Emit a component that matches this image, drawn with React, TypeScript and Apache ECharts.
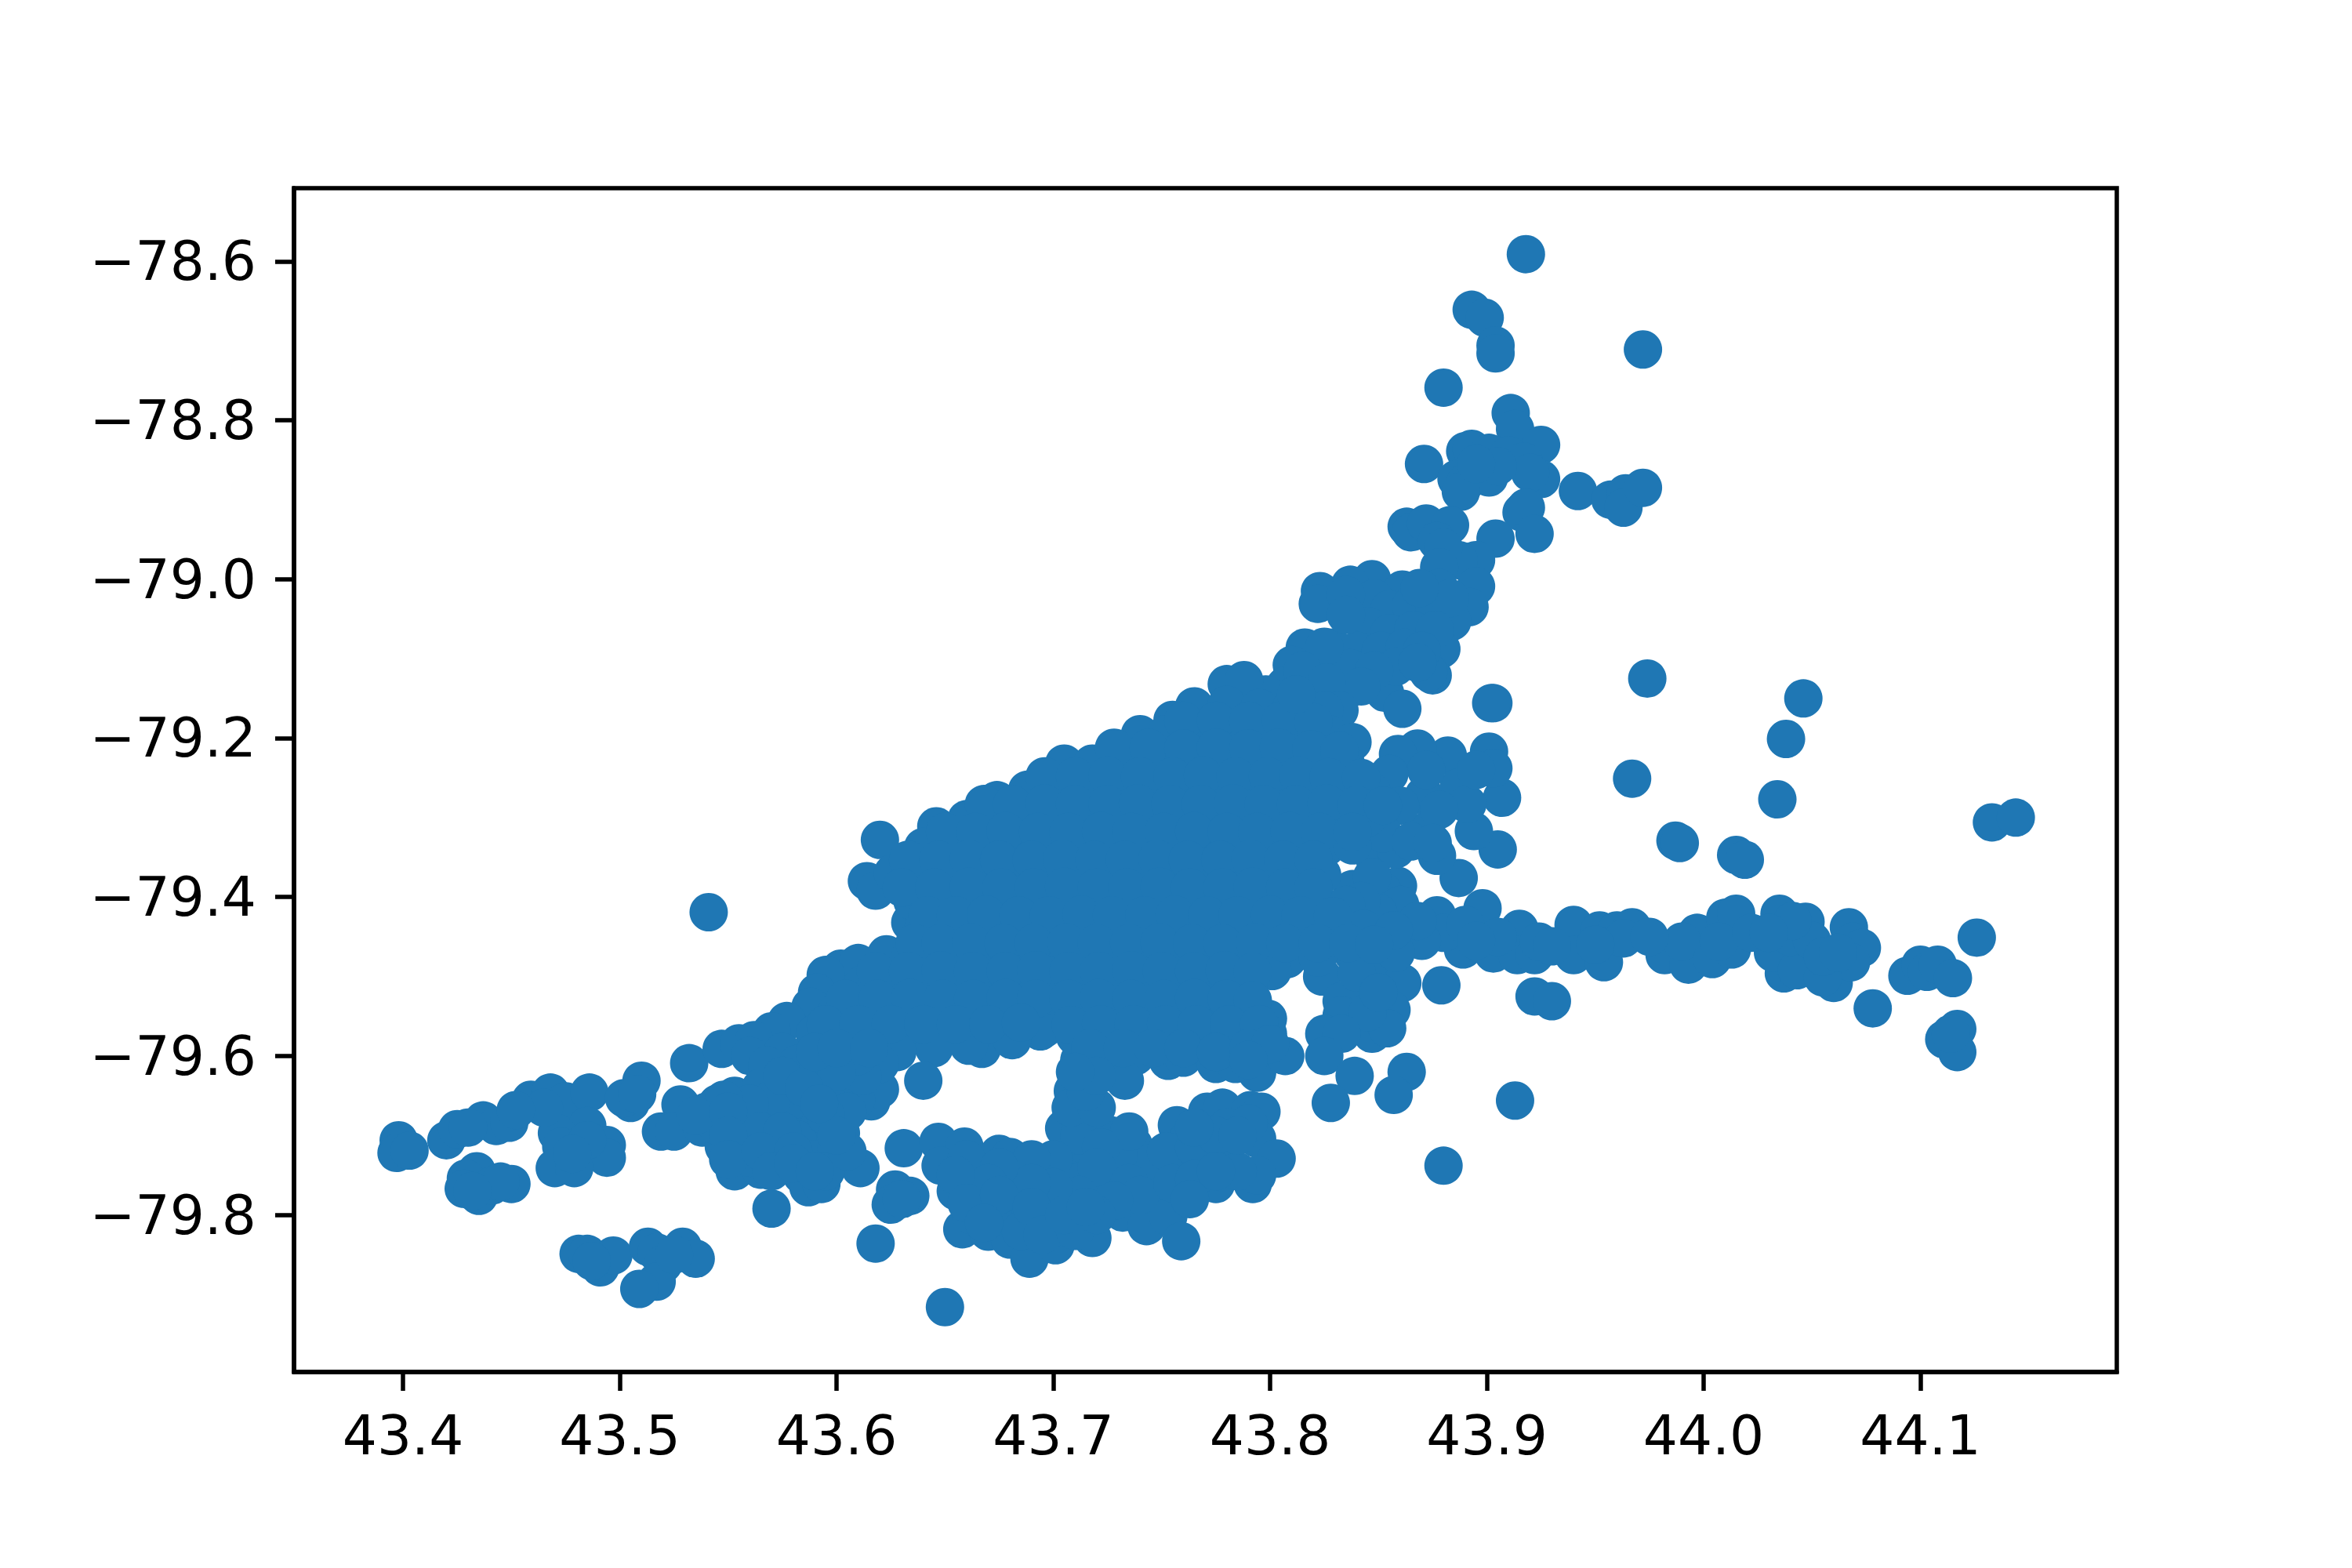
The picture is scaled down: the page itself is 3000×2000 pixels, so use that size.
import React, { useEffect, useRef } from "react";
import * as echarts from "echarts";

const xTicks = [43.4, 43.5, 43.6, 43.7, 43.8, 43.9, 44.0, 44.1];
const yTicks = [-78.6, -78.8, -79.0, -79.2, -79.4, -79.6, -79.8];

const northPoints = [
  [43.918,-78.591],[43.893,-78.661],[43.899,-78.671],[43.904,-78.706],[43.904,-78.716],[43.972,-78.711],[43.880,-78.759],
  [43.911,-78.791],[43.913,-78.811],[43.925,-78.831],[43.890,-78.839],[43.893,-78.836],[43.901,-78.841],[43.871,-78.855],
  [43.910,-78.844],[43.917,-78.852],[43.925,-78.874],[43.920,-78.866],[43.886,-78.874],[43.890,-78.879],[43.901,-78.872],
  [43.888,-78.890],[43.905,-78.858],[43.895,-78.855],[43.942,-78.889],[43.957,-78.900],[43.964,-78.892],[43.963,-78.910],[43.972,-78.885],
  [43.916,-78.916],[43.918,-78.910],[43.922,-78.943],[43.904,-78.949],[43.863,-78.934],[43.865,-78.941],[43.872,-78.930],
  [43.883,-78.932],[43.877,-78.952],[43.890,-78.978],[43.895,-78.976],[43.887,-78.976],[43.880,-78.960],[43.878,-78.985],
  [43.847,-79.000],[43.837,-79.007],[43.823,-79.015],[43.822,-79.031],[43.861,-79.013],[43.878,-79.011],[43.895,-79.009],
  [43.892,-79.035],[43.884,-79.053],[43.879,-79.088],[43.875,-79.121],[43.873,-79.117],[43.853,-79.143],[43.861,-79.163],
  [43.903,-79.156],[43.974,-79.125],[43.834,-79.143],[43.816,-79.086],[43.810,-79.108],[43.829,-79.086],[43.848,-79.024],
  [43.855,-79.038],[43.865,-79.033],[43.876,-79.038],[43.883,-79.024],[43.869,-79.011],[43.845,-79.059],[43.855,-79.068],
  [43.866,-79.064],[43.876,-79.064],[43.840,-79.090],[43.851,-79.090],[43.862,-79.086],[43.870,-79.090],[43.827,-79.108],
  [43.837,-79.112],[43.820,-79.134],[43.807,-79.134],[43.835,-79.020],[43.858,-79.110],[43.848,-79.115],[43.825,-79.085],
  [43.835,-79.045],[43.868,-79.105],[43.842,-79.135],[43.815,-79.115],[43.826,-79.130],[43.798,-79.145],[43.832,-79.165],
];

const eastPoints = [
  [44.046,-79.150],[44.038,-79.201],[43.967,-79.251],[44.034,-79.277],[44.133,-79.306],[44.144,-79.300],[43.987,-79.329],[43.989,-79.332],
  [44.015,-79.347],[44.019,-79.353],[43.898,-79.414],[43.915,-79.440],[43.877,-79.423],[43.940,-79.435],[43.952,-79.442],
  [43.960,-79.442],[43.967,-79.438],[43.940,-79.473],[43.954,-79.482],[43.963,-79.452],[43.903,-79.471],[43.914,-79.473],
  [43.922,-79.473],[43.924,-79.456],[43.889,-79.466],[43.879,-79.511],[43.922,-79.525],[43.930,-79.531],[44.078,-79.540],
  [43.982,-79.473],[43.993,-79.485],[43.997,-79.445],[43.990,-79.456],[44.004,-79.478],[44.010,-79.426],[44.015,-79.421],
  [44.013,-79.466],[44.007,-79.456],[44.035,-79.421],[44.037,-79.496],[44.047,-79.431],[44.032,-79.470],[44.043,-79.492],
  [44.040,-79.450],[44.050,-79.455],[44.060,-79.508],[44.067,-79.438],[44.069,-79.456],[44.073,-79.464],[44.068,-79.482],
  [44.055,-79.501],[44.055,-79.475],[44.062,-79.470],[44.041,-79.430],[44.094,-79.499],[44.100,-79.485],[44.103,-79.494],
  [44.108,-79.485],[44.115,-79.502],[44.126,-79.451],[44.117,-79.566],[44.111,-79.579],[44.117,-79.595],[44.114,-79.572],
  [43.880,-79.445],[43.890,-79.435],[43.905,-79.450],[43.930,-79.462],[43.950,-79.460],[43.870,-79.455],[43.895,-79.455],[44.022,-79.445],[44.030,-79.445],[43.975,-79.450],
];

const midEastPoints = [
  [43.902,-79.156],[43.905,-79.340],[43.887,-79.376],[43.894,-79.317],[43.877,-79.348],[43.907,-79.275],[43.901,-79.217],
  [43.903,-79.238],[43.882,-79.222],[43.868,-79.213],[43.859,-79.220],[43.836,-79.210],[43.852,-79.338],[43.859,-79.386],
  [43.838,-79.390],[43.852,-79.393],[43.872,-79.317],[43.871,-79.272],[43.850,-79.262],[43.887,-79.262],[43.891,-79.283],
  [43.872,-79.240],[43.855,-79.245],[43.895,-79.240],[43.860,-79.285],[43.878,-79.290],[43.848,-79.350],[43.860,-79.410],
  [43.845,-79.415],[43.858,-79.340],[43.843,-79.300],[43.850,-79.420],[43.855,-79.450],[43.835,-79.450],[43.845,-79.480],
  [43.852,-79.320],[43.865,-79.330],[43.875,-79.332],[43.847,-79.375],[43.842,-79.405],[43.868,-79.430],
];

const southEastPoints = [
  [43.824,-79.500],[43.854,-79.493],[43.861,-79.508],[43.843,-79.519],[43.833,-79.531],[43.856,-79.542],[43.847,-79.572],
  [43.833,-79.549],[43.854,-79.565],[43.825,-79.572],[43.845,-79.545],[43.833,-79.572],[43.825,-79.600],[43.839,-79.625],
  [43.863,-79.620],[43.857,-79.649],[43.828,-79.659],[43.913,-79.656],[43.880,-79.738],[43.838,-79.470],[43.858,-79.470],
  [43.840,-79.495],[43.850,-79.520],
];

const mainBodyPoints = [
  [43.646,-79.311],[43.620,-79.328],[43.674,-79.278],[43.705,-79.232],[43.723,-79.230],[43.755,-79.177],[43.780,-79.132],[43.788,-79.127],
  [43.614,-79.380],[43.618,-79.392],[43.634,-79.432],[43.668,-79.285],
  [43.765,-79.160],[43.780,-79.158],[43.795,-79.162],[43.810,-79.160],[43.825,-79.165],[43.740,-79.195],
  [43.752,-79.195],[43.768,-79.195],[43.782,-79.198],[43.797,-79.195],[43.812,-79.196],[43.827,-79.195],[43.838,-79.205],
  [43.718,-79.232],[43.733,-79.228],[43.748,-79.230],[43.762,-79.232],[43.777,-79.230],[43.792,-79.231],[43.806,-79.229],[43.820,-79.232],[43.835,-79.233],
  [43.688,-79.265],[43.702,-79.266],[43.716,-79.265],[43.731,-79.266],[43.745,-79.264],[43.760,-79.266],[43.774,-79.265],[43.789,-79.266],[43.803,-79.264],[43.818,-79.266],[43.832,-79.265],[43.847,-79.268],
  [43.660,-79.302],[43.674,-79.300],[43.689,-79.301],[43.703,-79.300],[43.718,-79.302],[43.732,-79.300],[43.747,-79.301],[43.761,-79.300],[43.776,-79.302],[43.790,-79.300],[43.805,-79.301],[43.819,-79.300],[43.834,-79.302],[43.845,-79.300],
  [43.640,-79.337],[43.653,-79.336],[43.667,-79.335],[43.682,-79.336],[43.696,-79.335],[43.711,-79.337],[43.725,-79.335],[43.740,-79.336],[43.754,-79.335],[43.769,-79.337],[43.783,-79.335],[43.798,-79.336],[43.812,-79.335],[43.826,-79.337],[43.838,-79.335],
  [43.626,-79.370],[43.640,-79.371],[43.655,-79.370],[43.669,-79.372],[43.684,-79.370],[43.698,-79.371],[43.713,-79.370],[43.727,-79.372],[43.742,-79.370],[43.756,-79.371],[43.771,-79.370],[43.785,-79.372],[43.800,-79.370],[43.814,-79.371],[43.824,-79.372],
  [43.635,-79.405],[43.648,-79.406],[43.662,-79.405],[43.677,-79.407],[43.691,-79.405],[43.706,-79.406],[43.720,-79.405],[43.735,-79.407],[43.749,-79.405],[43.764,-79.406],[43.778,-79.405],[43.793,-79.407],[43.807,-79.405],[43.822,-79.406],[43.835,-79.410],
  [43.640,-79.440],[43.655,-79.441],[43.669,-79.440],[43.684,-79.442],[43.698,-79.440],[43.713,-79.441],[43.727,-79.440],[43.742,-79.442],[43.756,-79.440],[43.771,-79.441],[43.785,-79.440],[43.800,-79.442],[43.814,-79.440],[43.829,-79.441],[43.843,-79.440],[43.857,-79.442],
  [43.623,-79.472],[43.634,-79.475],[43.648,-79.476],[43.662,-79.475],[43.677,-79.477],[43.691,-79.475],[43.706,-79.476],[43.720,-79.475],[43.735,-79.477],[43.749,-79.475],[43.764,-79.476],[43.778,-79.475],[43.793,-79.477],[43.808,-79.478],[43.822,-79.476],
  [43.602,-79.490],[43.610,-79.483],[43.612,-79.510],[43.627,-79.511],[43.641,-79.510],[43.656,-79.512],[43.670,-79.510],[43.685,-79.511],[43.699,-79.510],[43.714,-79.512],[43.728,-79.510],[43.743,-79.511],[43.757,-79.510],[43.772,-79.512],[43.786,-79.510],[43.801,-79.493],[43.790,-79.515],
  [43.595,-79.498],[43.591,-79.520],[43.588,-79.538],[43.600,-79.545],[43.615,-79.546],[43.629,-79.545],[43.644,-79.547],[43.658,-79.545],[43.673,-79.546],[43.687,-79.545],[43.702,-79.547],[43.716,-79.545],[43.731,-79.546],[43.745,-79.545],[43.760,-79.547],[43.774,-79.545],[43.789,-79.546],[43.799,-79.553],
  [43.577,-79.556],[43.570,-79.569],[43.590,-79.572],[43.605,-79.575],[43.620,-79.573],[43.634,-79.575],[43.641,-79.576],[43.652,-79.570],[43.667,-79.572],[43.681,-79.574],[43.696,-79.565],[43.694,-79.569],[43.710,-79.575],[43.724,-79.577],[43.739,-79.575],[43.753,-79.576],[43.768,-79.575],[43.782,-79.577],[43.799,-79.572],
  [43.660,-79.582],[43.667,-79.591],[43.681,-79.580],[43.661,-79.587],[43.645,-79.590],[43.628,-79.595],[43.712,-79.605],[43.725,-79.605],[43.738,-79.600],[43.753,-79.606],[43.760,-79.602],[43.775,-79.610],[43.784,-79.610],[43.794,-79.621],[43.807,-79.600],[43.733,-79.631],[43.709,-79.644],[43.640,-79.631],
];

const mainInteriorPoints = [
  [43.760,-79.178],[43.775,-79.178],[43.790,-79.178],[43.805,-79.178],[43.820,-79.180],[43.812,-79.145],
  [43.728,-79.212],[43.744,-79.212],[43.760,-79.213],[43.775,-79.212],[43.790,-79.213],[43.804,-79.212],[43.819,-79.214],[43.832,-79.216],
  [43.696,-79.248],[43.710,-79.248],[43.725,-79.247],[43.740,-79.248],[43.755,-79.248],[43.769,-79.247],[43.784,-79.248],[43.799,-79.248],[43.813,-79.247],[43.827,-79.249],[43.842,-79.250],
  [43.668,-79.283],[43.681,-79.283],[43.696,-79.282],[43.710,-79.283],[43.725,-79.283],[43.739,-79.282],[43.754,-79.283],[43.768,-79.283],[43.783,-79.282],[43.797,-79.283],[43.812,-79.283],[43.826,-79.282],[43.840,-79.284],[43.852,-79.285],
  [43.650,-79.318],[43.664,-79.318],[43.678,-79.317],[43.693,-79.318],[43.707,-79.318],[43.722,-79.317],[43.736,-79.318],[43.751,-79.318],[43.765,-79.317],[43.780,-79.318],[43.794,-79.318],[43.809,-79.317],[43.823,-79.318],[43.838,-79.318],
  [43.633,-79.353],[43.647,-79.353],[43.661,-79.352],[43.675,-79.353],[43.690,-79.353],[43.704,-79.352],[43.719,-79.353],[43.733,-79.353],[43.748,-79.352],[43.762,-79.353],[43.777,-79.353],[43.791,-79.352],[43.806,-79.353],[43.820,-79.353],
  [43.630,-79.388],[43.645,-79.388],[43.661,-79.387],[43.676,-79.388],[43.691,-79.388],[43.705,-79.387],[43.720,-79.388],[43.734,-79.388],[43.749,-79.387],[43.763,-79.388],[43.778,-79.388],[43.792,-79.387],[43.807,-79.388],[43.820,-79.388],
  [43.642,-79.423],[43.655,-79.423],[43.669,-79.422],[43.684,-79.423],[43.698,-79.423],[43.713,-79.422],[43.727,-79.423],[43.742,-79.423],[43.756,-79.422],[43.771,-79.423],[43.785,-79.423],[43.800,-79.422],[43.814,-79.423],[43.829,-79.424],
  [43.636,-79.458],[43.648,-79.458],[43.662,-79.457],[43.677,-79.458],[43.691,-79.458],[43.706,-79.457],[43.720,-79.458],[43.735,-79.458],[43.749,-79.457],[43.764,-79.458],[43.778,-79.458],[43.793,-79.457],[43.807,-79.458],[43.822,-79.458],[43.836,-79.458],[43.848,-79.460],
  [43.618,-79.493],[43.633,-79.493],[43.648,-79.492],[43.663,-79.493],[43.678,-79.493],[43.692,-79.492],[43.707,-79.493],[43.721,-79.493],[43.736,-79.492],[43.750,-79.493],[43.765,-79.493],[43.779,-79.492],[43.792,-79.494],
  [43.604,-79.528],[43.619,-79.528],[43.634,-79.527],[43.649,-79.528],[43.663,-79.528],[43.678,-79.527],[43.692,-79.528],[43.707,-79.528],[43.721,-79.527],[43.736,-79.528],[43.751,-79.528],[43.765,-79.527],[43.780,-79.528],[43.792,-79.530],
  [43.595,-79.560],[43.610,-79.560],[43.625,-79.560],[43.640,-79.560],[43.655,-79.560],[43.670,-79.560],[43.685,-79.558],[43.708,-79.561],[43.722,-79.560],[43.737,-79.560],[43.752,-79.560],[43.766,-79.560],[43.781,-79.560],[43.795,-79.560],
  [43.717,-79.590],[43.732,-79.590],[43.746,-79.590],[43.760,-79.590],[43.775,-79.595],[43.790,-79.590],[43.800,-79.585],[43.790,-79.605],
];

const westPoints = [
  [43.541,-79.419],[43.398,-79.706],[43.397,-79.722],[43.403,-79.719],[43.420,-79.706],[43.425,-79.692],[43.437,-79.681],
  [43.443,-79.688],[43.449,-79.684],[43.459,-79.655],[43.468,-79.646],[43.475,-79.657],[43.486,-79.646],[43.485,-79.688],
  [43.510,-79.631],[43.505,-79.659],[43.502,-79.653],[43.508,-79.648],[43.471,-79.697],[43.473,-79.714],[43.494,-79.712],
  [43.494,-79.728],[43.470,-79.741],[43.479,-79.741],[43.485,-79.706],[43.478,-79.723],[43.434,-79.745],[43.429,-79.754],
  [43.428,-79.767],[43.435,-79.776],[43.441,-79.763],[43.450,-79.761],[43.445,-79.758],[43.432,-79.770],[43.430,-79.690],[43.465,-79.665],[43.452,-79.668],
  [43.481,-79.849],[43.485,-79.849],[43.491,-79.866],[43.497,-79.851],[43.487,-79.858],[43.513,-79.840],[43.517,-79.847],
  [43.520,-79.862],[43.517,-79.884],[43.509,-79.893],[43.529,-79.840],[43.535,-79.855],[43.525,-79.850],
  [43.650,-79.916],[43.618,-79.836],[43.570,-79.792],
];

const westCentralPoints = [
  [43.532,-79.609],[43.528,-79.661],[43.519,-79.695],[43.525,-79.695],[43.538,-79.690],[43.540,-79.670],[43.553,-79.650],
  [43.545,-79.660],[43.548,-79.714],[43.553,-79.745],[43.565,-79.743],[43.579,-79.714],[43.584,-79.750],[43.587,-79.765],
  [43.593,-79.761],[43.611,-79.741],[43.602,-79.697],[43.616,-79.657],[43.620,-79.642],[43.568,-79.626],[43.577,-79.640],
  [43.591,-79.626],[43.602,-79.635],[43.609,-79.655],[43.586,-79.670],[43.558,-79.680],[43.568,-79.680],[43.580,-79.680],
  [43.591,-79.692],[43.582,-79.705],[43.556,-79.692],[43.545,-79.688],[43.560,-79.710],[43.570,-79.712],[43.560,-79.728],
  [43.573,-79.730],[43.590,-79.730],[43.600,-79.715],[43.595,-79.745],[43.547,-79.591],[43.555,-79.584],[43.562,-79.580],
  [43.560,-79.600],[43.575,-79.595],[43.590,-79.600],[43.605,-79.610],[43.620,-79.610],[43.612,-79.625],[43.582,-79.610],[43.568,-79.612],
  [43.565,-79.640],[43.580,-79.655],[43.595,-79.650],[43.605,-79.670],[43.595,-79.675],[43.570,-79.655],[43.560,-79.660],[43.548,-79.655],
  [43.535,-79.675],[43.550,-79.670],[43.595,-79.610],[43.610,-79.600],[43.600,-79.620],[43.575,-79.625],[43.585,-79.640],[43.565,-79.695],
  [43.575,-79.695],[43.550,-79.700],[43.550,-79.730],[43.565,-79.720],[43.580,-79.720],[43.570,-79.745],[43.580,-79.735],[43.590,-79.745],
  [43.605,-79.720],[43.600,-79.700],[43.592,-79.660],[43.590,-79.595],[43.600,-79.590],[43.615,-79.590],
];

const southPoints = [
  [43.631,-79.716],[43.647,-79.708],[43.659,-79.714],[43.648,-79.738],[43.655,-79.770],[43.658,-79.818],[43.675,-79.723],
  [43.680,-79.727],[43.693,-79.746],[43.670,-79.821],[43.680,-79.831],[43.689,-79.855],[43.701,-79.838],[43.718,-79.829],
  [43.732,-79.797],[43.743,-79.814],[43.753,-79.802],[43.759,-79.833],[43.737,-79.712],[43.757,-79.687],[43.771,-79.670],
  [43.778,-79.665],[43.791,-79.668],[43.796,-79.670],[43.794,-79.704],[43.803,-79.729],[43.792,-79.761],[43.794,-79.750],
  [43.775,-79.761],[43.760,-79.765],[43.769,-79.734],[43.753,-79.738],[43.716,-79.663],[43.705,-79.691],[43.720,-79.689],
  [43.727,-79.700],[43.711,-79.727],[43.704,-79.750],[43.713,-79.757],[43.693,-79.776],[43.680,-79.790],[43.665,-79.745],
  [43.665,-79.770],[43.680,-79.755],[43.672,-79.795],[43.690,-79.805],[43.705,-79.785],[43.720,-79.785],[43.702,-79.815],
  [43.685,-79.820],[43.715,-79.805],[43.725,-79.765],[43.735,-79.745],[43.745,-79.760],[43.745,-79.735],[43.730,-79.725],
  [43.762,-79.705],[43.780,-79.690],[43.775,-79.730],[43.785,-79.745],[43.760,-79.745],[43.662,-79.800],
  [43.627,-79.768],[43.625,-79.787],[43.634,-79.776],[43.630,-79.780],
  [43.712,-79.700],[43.735,-79.695],[43.722,-79.715],[43.720,-79.740],[43.735,-79.760],[43.740,-79.775],[43.728,-79.782],[43.712,-79.775],
  [43.700,-79.730],[43.690,-79.730],[43.700,-79.765],[43.690,-79.760],[43.752,-79.720],[43.755,-79.760],[43.765,-79.715],[43.775,-79.700],
  [43.790,-79.685],[43.765,-79.690],[43.785,-79.700],[43.765,-79.755],[43.763,-79.780],[43.775,-79.745],[43.660,-79.730],[43.675,-79.740],
  [43.670,-79.760],[43.655,-79.750],[43.660,-79.785],[43.675,-79.775],[43.690,-79.790],[43.668,-79.810],[43.695,-79.825],[43.710,-79.820],
  [43.705,-79.800],[43.720,-79.800],[43.715,-79.790],[43.708,-79.665],[43.720,-79.665],[43.715,-79.645],[43.720,-79.625],[43.710,-79.620],
];

const seriesData = [
  ...northPoints, ...eastPoints, ...midEastPoints, ...southEastPoints,
  ...mainBodyPoints, ...mainInteriorPoints, ...westPoints, ...westCentralPoints, ...southPoints,
];

const FONT = "DejaVu Sans";

export default function App() {
  const ref = useRef<HTMLDivElement>(null);
  useEffect(() => {
    const chart = echarts.init(ref.current!, undefined, { renderer: "svg" });
    const axisLine = { show: true, lineStyle: { color: "#000", width: 5.5 } };
    const axisTick = { show: true, length: 24, lineStyle: { color: "#000", width: 5.5 } };
    chart.setOption({
      animation: false,
      backgroundColor: "#fff",
      grid: { left: 375, top: 240, width: 2325, height: 1510, show: true, borderColor: "#000", borderWidth: 5.5, backgroundColor: "#fff", containLabel: false },
      xAxis: {
        type: "value", min: 43.3497, max: 44.1906,
        splitLine: { show: false }, axisLine,
        axisTick: { ...axisTick, customValues: xTicks },
        axisLabel: {
          customValues: xTicks, margin: 46, fontFamily: FONT, fontSize: 69.4, color: "#000",
          showMinLabel: true, showMaxLabel: true, formatter: (v: number) => v.toFixed(1),
        },
      },
      yAxis: {
        type: "value", min: -79.9976, max: -78.508,
        splitLine: { show: false }, axisLine,
        axisTick: { ...axisTick, customValues: yTicks },
        axisLabel: {
          customValues: yTicks, margin: 48, fontFamily: FONT, fontSize: 69.4, color: "#000",
          formatter: (v: number) => "\u2212" + Math.abs(v).toFixed(1),
        },
      },
      series: [{
        type: "scatter", data: seriesData, symbol: "circle", symbolSize: 49,
        itemStyle: { color: "#1f77b4", opacity: 1 }, silent: true, clip: false,
      }],
    });
    return () => chart.dispose();
  }, []);
  return <div ref={ref} style={{ position: "absolute", left: 0, top: 0, width: 3000, height: 2000 }} />;
}
